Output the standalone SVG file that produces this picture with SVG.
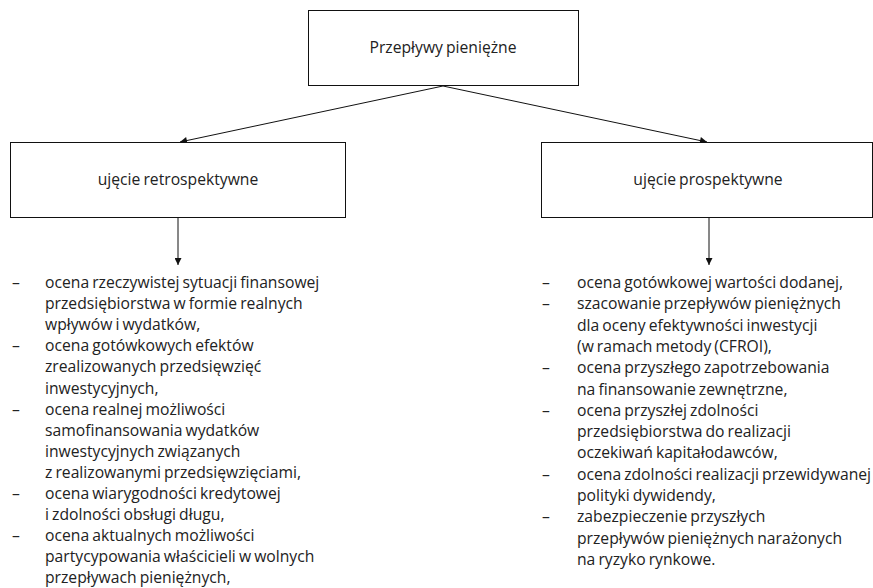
<svg xmlns="http://www.w3.org/2000/svg" width="873" height="588" viewBox="0 0 873 588">
<style>
text{font-family:"Open Sans","Noto Sans","Liberation Sans",sans-serif;font-size:15.7px;fill:#222;word-spacing:-1px}
.box{fill:#fff;stroke:#111;stroke-width:1}
.c{text-anchor:middle}
.con{stroke:#111;stroke-width:1;fill:none}
</style>
<defs>
<marker id="ah" viewBox="0 0 10 10" refX="10" refY="5" markerWidth="9" markerHeight="7" markerUnits="userSpaceOnUse" orient="auto"><path d="M0,0 L10,5 L0,10 z" fill="#111"/></marker>
</defs>
<rect width="873" height="588" fill="#fff"/>
<g id="connectors">
<line class="con" x1="443" y1="86" x2="180" y2="142" marker-end="url(#ah)"/>
<line class="con" x1="443" y1="86" x2="707" y2="142" marker-end="url(#ah)"/>
<line class="con" x1="178" y1="217" x2="178" y2="265" marker-end="url(#ah)"/>
<line class="con" x1="709" y1="217" x2="709" y2="265" marker-end="url(#ah)"/>
</g>
<g id="root">
<rect class="box" x="308.5" y="10.5" width="270" height="75"/>
<text class="c" x="443" y="53">Przepływy pieniężne</text>
</g>
<g id="retro">
<rect class="box" x="10.5" y="142.5" width="335" height="75"/>
<text class="c" x="178" y="185">ujęcie retrospektywne</text>
</g>
<g id="prosp">
<rect class="box" x="541.5" y="142.5" width="331" height="75"/>
<text class="c" x="708" y="185">ujęcie prospektywne</text>
</g>
<g id="retro-list">
<text x="12" y="288">–</text>
<text x="45" y="288">ocena rzeczywistej sytuacji finansowej</text>
<text x="45" y="309.1">przedsiębiorstwa w formie realnych</text>
<text x="45" y="330.2">wpływów i wydatków,</text>
<text x="12" y="351.3">–</text>
<text x="45" y="351.3">ocena gotówkowych efektów</text>
<text x="45" y="372.4">zrealizowanych przedsięwzięć</text>
<text x="45" y="393.5">inwestycyjnych,</text>
<text x="12" y="414.6">–</text>
<text x="45" y="414.6">ocena realnej możliwości</text>
<text x="45" y="435.7">samofinansowania wydatków</text>
<text x="45" y="456.8">inwestycyjnych związanych</text>
<text x="45" y="477.9">z realizowanymi przedsięwzięciami,</text>
<text x="12" y="499">–</text>
<text x="45" y="499">ocena wiarygodności kredytowej</text>
<text x="45" y="520.1">i zdolności obsługi długu,</text>
<text x="12" y="541.2">–</text>
<text x="45" y="541.2">ocena aktualnych możliwości</text>
<text x="45" y="562.3">partycypowania właścicieli w wolnych</text>
<text x="45" y="583.4">przepływach pieniężnych,</text>
</g>
<g id="prosp-list">
<text x="542" y="288">–</text>
<text x="577" y="288">ocena gotówkowej wartości dodanej,</text>
<text x="542" y="309.3">–</text>
<text x="577" y="309.3">szacowanie przepływów pieniężnych</text>
<text x="577" y="330.6">dla oceny efektywności inwestycji</text>
<text x="577" y="351.9">(w ramach metody (CFROI),</text>
<text x="542" y="373.2">–</text>
<text x="577" y="373.2">ocena przyszłego zapotrzebowania</text>
<text x="577" y="394.5">na finansowanie zewnętrzne,</text>
<text x="542" y="415.8">–</text>
<text x="577" y="415.8">ocena przyszłej zdolności</text>
<text x="577" y="437.1">przedsiębiorstwa do realizacji</text>
<text x="577" y="458.4">oczekiwań kapitałodawców,</text>
<text x="542" y="479.7">–</text>
<text x="577" y="479.7">ocena zdolności realizacji przewidywanej</text>
<text x="577" y="501">polityki dywidendy,</text>
<text x="542" y="522.3">–</text>
<text x="577" y="522.3">zabezpieczenie przyszłych</text>
<text x="577" y="543.6">przepływów pieniężnych narażonych</text>
<text x="577" y="564.9">na ryzyko rynkowe.</text>
</g>
</svg>
